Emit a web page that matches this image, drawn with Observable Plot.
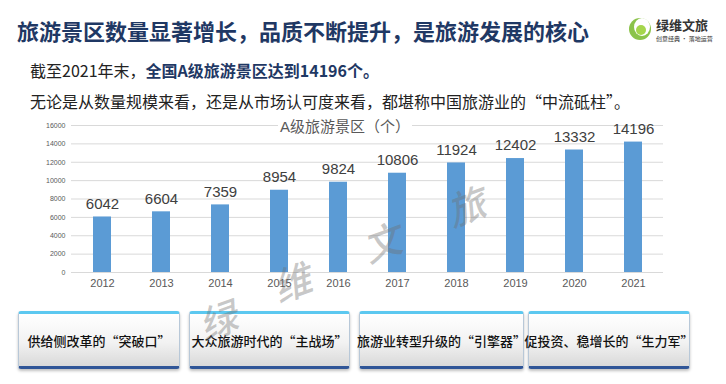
<!DOCTYPE html>
<html><head><meta charset="utf-8">
<script src="https://cdn.jsdelivr.net/npm/d3@7"></script>
<script src="https://cdn.jsdelivr.net/npm/@observablehq/plot@0.6"></script>
<style>
  html,body{margin:0;padding:0;background:#fff;}
  #page{position:relative;width:726px;height:384px;overflow:hidden;font-family:"Noto Sans CJK SC","Noto Sans",sans-serif;}
  .abs{position:absolute;white-space:nowrap;}
  #title{left:17px;top:14px;font-size:22px;font-weight:700;color:#1F3864;line-height:32px;}
  #l1{left:30px;top:58px;font-size:16px;color:#222;line-height:24px;}
  #l1 b{color:#1F3864;font-weight:700;}
  #l2{left:30px;top:89px;font-size:16px;color:#222;line-height:24px;}
  #ctitle{left:0;top:116px;width:690px;text-align:center;font-size:15px;color:#595959;line-height:20px;}
  #ctitle span{background:#fff;padding:0 2px;font-family:"Liberation Sans","Noto Sans CJK SC",sans-serif;}
  #chart{position:absolute;left:0;top:110px;}
  .box{position:absolute;top:311px;height:52px;border-radius:3px;
       background:linear-gradient(#ffffff,#f2f2f2 55%,#d9d9d9);
       border-top:3px solid #5CC8F0;border-bottom:3px solid #2F5597;
       border-left:1px solid #b8c8d8;border-right:1px solid #b8c8d8;
       box-shadow:0 2px 3px rgba(0,0,0,0.25);
       display:flex;align-items:center;justify-content:center;
       font-size:13px;font-weight:500;color:#111;white-space:nowrap;}
  .wm{position:absolute;z-index:5;font-size:38px;color:rgba(110,110,110,0.38);transform:rotate(-20deg) skewX(-15deg);font-family:"Noto Sans CJK SC",sans-serif;font-weight:500;pointer-events:none;}
</style></head>
<body>
<div id="page">
  <div id="title" class="abs">旅游景区数量显著增长，品质不断提升，是旅游发展的核心</div>
  <div id="logo" class="abs" style="left:627px;top:14px;width:96px;height:30px;">
    <svg width="96" height="30">
      <ellipse cx="13" cy="15" rx="11" ry="11" fill="#8BC34A"/>
      <ellipse cx="15" cy="13" rx="8" ry="9" fill="#fff"/>
      <circle cx="14" cy="16" r="5" fill="#A5D64C"/>
      <text x="29" y="16" font-size="13" font-weight="700" fill="#333" font-family="Noto Sans CJK SC">绿维文旅</text>
      <text x="29" y="27" font-size="6" fill="#333" font-family="Noto Sans CJK SC">创意经典 · 落地运营</text>
    </svg>
  </div>
  <div id="l1" class="abs">截至2021年末，<b>全国A级旅游景区达到14196个。</b></div>
  <div id="l2" class="abs">无论是从数量规模来看，还是从市场认可度来看，都堪称中国旅游业的“中流砥柱”。</div>
  <div id="chart"></div>
  <div id="ctitle" class="abs"><span>A级旅游景区（个）</span></div>
  <div id="boxes"></div>
  <div class="wm" style="left:202px;top:290px;">绿</div>
  <div class="wm" style="left:276px;top:252px;">维</div>
  <div class="wm" style="left:366px;top:212px;">文</div>
  <div class="wm" style="left:450px;top:176px;">旅</div>
</div>
<script>
const years = ["2012","2013","2014","2015","2016","2017","2018","2019","2020","2021"];
const counts = [6042, 6604, 7359, 8954, 9824, 10806, 11924, 12402, 13332, 14196];
const yTicks = [0,2000,4000,6000,8000,10000,12000,14000,16000];
const boxLabels = ["供给侧改革的“突破口”","大众旅游时代的“主战场”","旅游业转型升级的“引擎器”","促投资、稳增长的“生力军”"];

const data = years.map((y,i)=>({year:y, value:counts[i]}));

const chart = Plot.plot({
  width: 726,
  height: 190,
  marginTop: 15,
  marginBottom: 28,
  marginLeft: 71,
  marginRight: 63,
  style: {fontFamily: "'Liberation Sans', Arial, sans-serif", background: "transparent", overflow: "visible"},
  x: {domain: years, paddingInner: 0.7, paddingOuter: 0.35, label: null},
  y: {domain: [0,16000], label: null},
  marks: [
    Plot.gridY(yTicks, {stroke: "#D9D9D9", strokeOpacity: 1, strokeWidth: 1}),
    Plot.axisY(yTicks, {tickSize: 0, tickPadding: 6, fontSize: 7, fill: "#595959", label: null, tickFormat: d => String(d)}),
    Plot.axisX({tickSize: 0, tickPadding: 7, fontSize: 11, fill: "#595959", label: null}),
    Plot.barY(data, {x: "year", y: "value", fill: "#5B9BD5"}),
    Plot.text(data, {x: "year", y: "value", text: d => String(d.value), dy: -13, fontSize: 15, fill: "#404040"})
  ]
});
document.getElementById("chart").appendChild(chart);

const lefts = [18, 189, 359, 528];
const widths = [160, 159, 163, 160];
const bx = document.getElementById("boxes");
boxLabels.forEach((t,i)=>{
  const d = document.createElement("div");
  d.className = "box";
  d.style.left = lefts[i] + "px";
  d.style.width = widths[i] + "px";
  d.textContent = t;
  bx.appendChild(d);
});
</script>
</body></html>
